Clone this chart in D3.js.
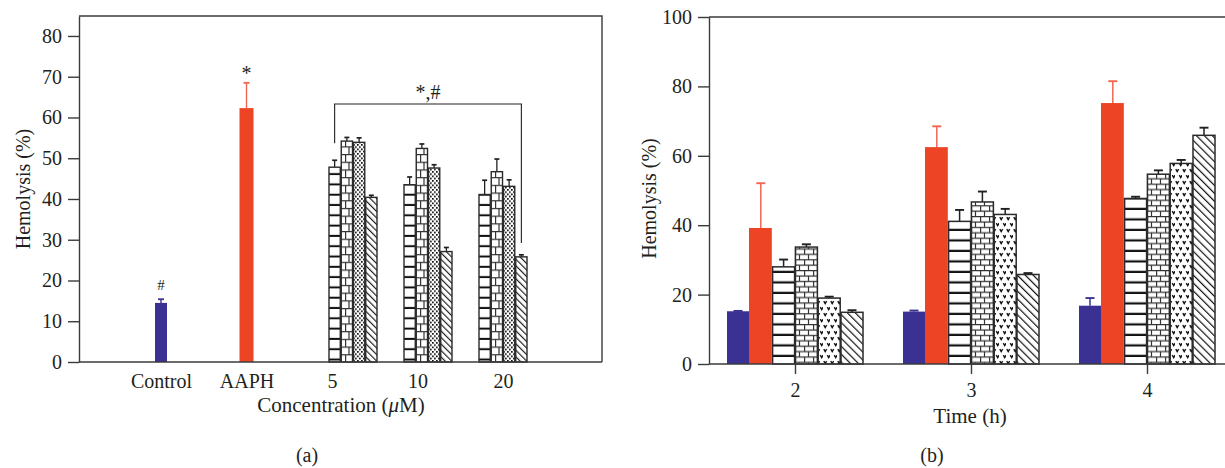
<!DOCTYPE html>
<html><head><meta charset="utf-8">
<script src="https://cdn.jsdelivr.net/npm/d3@7"></script>
<style>
body{margin:0;background:#fff}
svg{display:block}
text{font-family:"Liberation Serif","Times New Roman",serif;fill:#231f20}
</style>
</head><body>
<svg id="fig" width="1225" height="468"></svg>
<script>
// ---------- data: panel (a), hemolysis vs concentration ----------
const singleLabelsA = ["Control", "AAPH"];
const singleMeanA   = [14.5, 62.3];
const singleSdA     = [0.9, 6.2];
const singleMarkA   = ["#", "*"];

const concLabels = ["5", "10", "20"];
const treatNames = ["lines", "brick", "dots", "hatch"];
const concMean = [
  [47.8, 54.2, 53.9, 40.4],
  [43.5, 52.4, 47.6, 27.1],
  [41.1, 46.7, 43.1, 25.8]
];
const concSd = [
  [1.7, 0.9, 1.1, 0.5],
  [1.9, 1.1, 0.8, 1.0],
  [3.5, 3.1, 1.6, 0.5]
];
// significance bracket over the concentration groups: top, left end, right end (in %)
const bracketLevels = [63.3, 53.7, 29.2];
const bracketText = "*,#";
const yTicksA = [0, 10, 20, 30, 40, 50, 60, 70, 80];

// ---------- data: panel (b), hemolysis vs time ----------
const timeLabels = ["2", "3", "4"];
const seriesB = ["control", "aaph", "lines", "brick", "dots", "hatch"];
const controlB = [15.2, 15.1, 16.8];
const controlSdB = [0.1, 0.3, 2.2];
const aaphB = [39.2, 62.5, 75.2];
const aaphSdB = [12.9, 6.0, 6.3];
const linesB = [28.0, 41.1, 47.7];
const linesSdB = [2.1, 3.3, 0.5];
const brickB = [33.7, 46.7, 54.7];
const brickSdB = [0.8, 3.0, 1.1];
const dotsB = [19.0, 43.1, 57.8];
const dotsSdB = [0.4, 1.6, 1.0];
const hatchB = [14.9, 25.8, 65.9];
const hatchSdB = [0.6, 0.4, 2.2];
const yTicksB = [0, 20, 40, 60, 80, 100];

// ---------- styling ----------
const BLUE = "#3a3192", RED = "#ee4426", RED_ERR = "#f26552";
const INK = "#231f20", AXIS = "#3b3b3b", OUTLINE = "#2a2a2a";

const svg = d3.select("#fig");
const defs = svg.append("defs");

// fill patterns for the four treatment bars (two sizes, one per panel)
function linesPattern(id, gap, thick) {
  const p = defs.append("pattern").attr("id", id).attr("patternUnits", "userSpaceOnUse")
    .attr("width", 8).attr("height", gap);
  p.append("rect").attr("width", 8).attr("height", gap).attr("fill", "#fff");
  p.append("rect").attr("y", gap - thick).attr("width", 8).attr("height", thick).attr("fill", "#111");
}
function brickPattern(id, w, h, sw) {
  const p = defs.append("pattern").attr("id", id).attr("patternUnits", "userSpaceOnUse")
    .attr("width", w).attr("height", 2 * h);
  p.append("rect").attr("width", w).attr("height", 2 * h).attr("fill", "#fff");
  const path = `M0,${sw/2}H${w} M0,${h + sw/2}H${w} M${sw/2},0V${h} M${w/2},${h}V${2*h}`;
  p.append("path").attr("d", path).attr("stroke", "#333").attr("stroke-width", sw).attr("fill", "none");
}
function dotsPatternV(id) {
  const p = defs.append("pattern").attr("id", id).attr("patternUnits", "userSpaceOnUse")
    .attr("width", 7).attr("height", 12);
  p.append("rect").attr("width", 7).attr("height", 12).attr("fill", "#fff");
  p.append("path").attr("d", "M0.8,1.2 L2.2,3.6 L3.6,1.2 M4.3,7.2 L5.7,9.6 L7.1,7.2")
    .attr("stroke", "#111").attr("stroke-width", 1.4).attr("fill", "none");
}
function dotsPatternSq(id) {
  const p = defs.append("pattern").attr("id", id).attr("patternUnits", "userSpaceOnUse")
    .attr("width", 4).attr("height", 4.5);
  p.append("rect").attr("width", 4).attr("height", 4.5).attr("fill", "#fff");
  p.append("rect").attr("x", 0).attr("y", 0).attr("width", 1.7).attr("height", 1.7).attr("fill", "#111");
  p.append("rect").attr("x", 2).attr("y", 2.25).attr("width", 1.7).attr("height", 1.7).attr("fill", "#111");
}
function hatchPattern(id, gap, sw) {
  const p = defs.append("pattern").attr("id", id).attr("patternUnits", "userSpaceOnUse")
    .attr("width", gap).attr("height", gap).attr("patternTransform", "rotate(-45)");
  p.append("rect").attr("width", gap).attr("height", gap).attr("fill", "#fff");
  p.append("line").attr("x1", 0.6).attr("x2", 0.6).attr("y1", 0).attr("y2", gap)
    .attr("stroke", "#111").attr("stroke-width", sw);
}
linesPattern("linesA", 10.3, 2);
brickPattern("brickA", 8, 7.7, 1.2);
dotsPatternSq("dotsA");
hatchPattern("hatchA", 4.6, 1.1);
linesPattern("linesB", 10.5, 2.2);
brickPattern("brickB", 9, 5.4, 1.2);
dotsPatternV("dotsB");
hatchPattern("hatchB", 5.6, 1.2);

function errorBar(g, x, yTop, yBase, cap, color, sw) {
  g.append("line").attr("x1", x).attr("x2", x).attr("y1", yBase).attr("y2", yTop)
    .attr("stroke", color).attr("stroke-width", sw);
  g.append("line").attr("x1", x - cap / 2).attr("x2", x + cap / 2).attr("y1", yTop).attr("y2", yTop)
    .attr("stroke", color).attr("stroke-width", sw + 0.4);
}

// =================== panel (a) ===================
const A = {left: 79, right: 602, top: 16, bottom: 362};
const yA = d3.scaleLinear().domain([0, 84.9]).range([A.bottom, A.top]);
const labelX = d3.scalePoint().domain(singleLabelsA.concat(concLabels)).range([161, 503]);
const groupX = d3.scalePoint().domain(concLabels).range([353, 503]);
const innerA = d3.scaleBand().domain(treatNames).range([-24, 24]).paddingInner(0.08);
const gA = svg.append("g");

// frame
gA.append("path").attr("d", `M${A.left},${A.top}H${A.right}V${A.bottom}`)
  .attr("fill", "none").attr("stroke", AXIS).attr("stroke-width", 1.4);

// control and AAPH bars
const singleColors = [BLUE, RED];
const singleW = [12, 14];
singleLabelsA.forEach((lab, i) => {
  const cx = labelX(lab);
  const w = singleW[i];
  const errColor = i === 0 ? BLUE : RED_ERR;
  errorBar(gA, cx, yA(singleMeanA[i] + singleSdA[i]), yA(singleMeanA[i]), 6, errColor, 1.4);
  gA.append("rect").attr("x", cx - w / 2).attr("width", w)
    .attr("y", yA(singleMeanA[i])).attr("height", yA(0) - yA(singleMeanA[i]))
    .attr("fill", singleColors[i]);
  gA.append("text").attr("x", cx).attr("y", yA(singleMeanA[i] + singleSdA[i]) - (i === 0 ? 9 : 3))
    .attr("text-anchor", "middle").style("font-size", i === 0 ? "15px" : "20px").text(singleMarkA[i]);
});

// concentration groups
concLabels.forEach((c, gi) => {
  const g = gA.append("g").attr("transform", `translate(${groupX(c)},0)`);
  treatNames.forEach((s, si) => {
    const v = concMean[gi][si], sd = concSd[gi][si];
    const x0 = innerA(s), w = innerA.bandwidth();
    errorBar(g, x0 + w / 2, yA(v + sd), yA(v), 5, INK, 1.3);
    g.append("rect").attr("x", x0).attr("width", w).attr("y", yA(v)).attr("height", yA(0) - yA(v))
      .attr("fill", `url(#${s}A)`).attr("stroke", OUTLINE).attr("stroke-width", 1.4);
  });
});

// bracket
const bxL = groupX(concLabels[0]) + innerA(treatNames[0]) + innerA.bandwidth() / 2;
const bxR = groupX(concLabels[2]) + innerA(treatNames[3]) + innerA.bandwidth() / 2;
gA.append("path")
  .attr("d", `M${bxL},${yA(bracketLevels[1])}V${yA(bracketLevels[0])}H${bxR}V${yA(bracketLevels[2])}`)
  .attr("fill", "none").attr("stroke", INK).attr("stroke-width", 1.1);
gA.append("text").attr("x", (bxL + bxR) / 2).attr("y", yA(bracketLevels[0]) - 5)
  .attr("text-anchor", "middle").style("font-size", "20px").text(bracketText);

// axes
gA.append("line").attr("x1", A.left).attr("x2", A.right).attr("y1", A.bottom).attr("y2", A.bottom)
  .attr("stroke", AXIS).attr("stroke-width", 1.4);
gA.append("g").attr("transform", `translate(${A.left},0)`)
  .call(d3.axisLeft(yA).tickValues(yTicksA).tickSize(11).tickSizeOuter(0).tickPadding(6));
const axAx = gA.append("g").attr("transform", `translate(0,${A.bottom})`)
  .call(d3.axisBottom(labelX).tickSize(0).tickPadding(12));
axAx.select(".domain").remove();

gA.append("text").attr("transform", `translate(30,${(A.top + A.bottom) / 2}) rotate(-90)`)
  .attr("text-anchor", "middle").style("font-size", "20px").text("Hemolysis (%)");
const concTitle = gA.append("text").attr("x", 341).attr("y", 412)
  .attr("text-anchor", "middle").style("font-size", "21px");
concTitle.append("tspan").text("Concentration (");
concTitle.append("tspan").style("font-style", "italic").text("\u03bc");
concTitle.append("tspan").text("M)");
gA.append("text").attr("x", 307).attr("y", 462).attr("text-anchor", "middle").style("font-size", "20px").text("(a)");

// =================== panel (b) ===================
const B = {left: 709, right: 1225, top: 17, bottom: 364};
const yB = d3.scaleLinear().domain([0, 100]).range([B.bottom, B.top]);
const timeX = d3.scalePoint().domain(timeLabels).range([795, 1147]);
const innerB = d3.scaleBand().domain(seriesB).range([-68, 68]).paddingInner(0.035);
const gB = svg.append("g");

gB.append("line").attr("x1", B.left).attr("x2", B.right).attr("y1", B.top).attr("y2", B.top)
  .attr("stroke", AXIS).attr("stroke-width", 1.4);

const valsB = {control: controlB, aaph: aaphB, lines: linesB, brick: brickB, dots: dotsB, hatch: hatchB};
const sdB = {control: controlSdB, aaph: aaphSdB, lines: linesSdB, brick: brickSdB, dots: dotsSdB, hatch: hatchSdB};
timeLabels.forEach((t, ti) => {
  const g = gB.append("g").attr("transform", `translate(${timeX(t)},0)`);
  seriesB.forEach(s => {
    const v = valsB[s][ti], sd = sdB[s][ti];
    const x0 = innerB(s), w = innerB.bandwidth();
    const solid = s === "control" || s === "aaph";
    const errColor = s === "control" ? BLUE : s === "aaph" ? RED_ERR : INK;
    errorBar(g, x0 + w / 2, yB(v + sd), yB(v), 9, errColor, 1.5);
    // the two solid bars sit flush against each other
    const bx = s === "aaph" ? x0 - (innerB.step() - innerB.bandwidth()) : x0;
    const bw = s === "aaph" ? w + (innerB.step() - innerB.bandwidth()) : w;
    g.append("rect").attr("x", bx).attr("width", bw).attr("y", yB(v)).attr("height", yB(0) - yB(v))
      .attr("fill", s === "control" ? BLUE : s === "aaph" ? RED : `url(#${s}B)`)
      .attr("stroke", solid ? "none" : OUTLINE).attr("stroke-width", 1.5);
  });
});

gB.append("line").attr("x1", B.left).attr("x2", B.right).attr("y1", B.bottom).attr("y2", B.bottom)
  .attr("stroke", AXIS).attr("stroke-width", 1.4);
gB.append("g").attr("transform", `translate(${B.left},0)`)
  .call(d3.axisLeft(yB).tickValues(yTicksB).tickSize(11).tickSizeOuter(0).tickPadding(6));
const axBx = gB.append("g").attr("transform", `translate(0,${B.bottom})`)
  .call(d3.axisBottom(timeX).tickSize(10).tickPadding(9));
axBx.select(".domain").remove();

gB.append("text").attr("transform", `translate(656,${(B.top + B.bottom) / 2 + 8}) rotate(-90)`)
  .attr("text-anchor", "middle").style("font-size", "20px").text("Hemolysis (%)");
gB.append("text").attr("x", 970).attr("y", 423).attr("text-anchor", "middle").style("font-size", "21px").text("Time (h)");
gB.append("text").attr("x", 932).attr("y", 462).attr("text-anchor", "middle").style("font-size", "20px").text("(b)");

// shared axis text styling
svg.selectAll(".tick text").style("font-family", "'Liberation Serif','Times New Roman',serif")
  .style("font-size", "20px").attr("fill", INK);
svg.selectAll(".tick line, .domain").attr("stroke", AXIS).attr("stroke-width", 1.4);
</script>
</body></html>
